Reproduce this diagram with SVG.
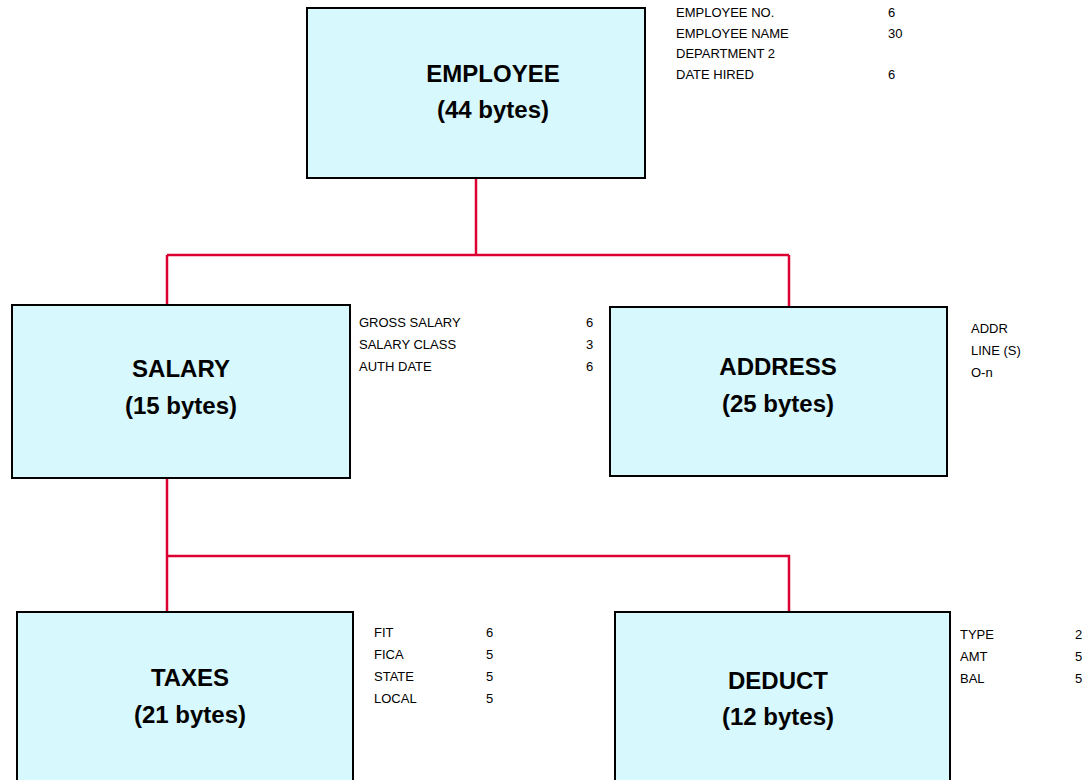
<svg xmlns="http://www.w3.org/2000/svg" width="1086" height="780" viewBox="0 0 1086 780">
  <style>
    .box { fill: #d7f8fc; stroke: #000; stroke-width: 2; }
    .title { font-family: "Liberation Sans", Arial, sans-serif; font-weight: bold; font-size: 24px; fill: #000; text-anchor: middle; }
    .field { font-family: "Liberation Sans", Arial, sans-serif; font-size: 13px; fill: #000; }
    .link { fill: none; stroke: #dc0032; stroke-width: 2.5; }
  </style>
  <rect width="1086" height="780" fill="#fff"/>

  <!-- connectors of the record hierarchy -->
  <g id="connectors">
    <path class="link" d="M476 178 V255 M167 255 H789 M167 255 V305 M789 255 V307"/>
    <path class="link" d="M167 478 V612 M167 556 H789 V612"/>
  </g>

  <g id="employee">
    <rect class="box" x="307" y="8" width="338" height="170"/>
    <text class="title" x="493" y="82">EMPLOYEE</text>
    <text class="title" x="493" y="118">(44 bytes)</text>
    <g class="field">
      <text x="676" y="17">EMPLOYEE NO.</text><text x="888" y="17">6</text>
      <text x="676" y="37.5">EMPLOYEE NAME</text><text x="888" y="37.5">30</text>
      <text x="676" y="58">DEPARTMENT 2</text>
      <text x="676" y="78.5">DATE HIRED</text><text x="888" y="78.5">6</text>
    </g>
  </g>

  <g id="salary">
    <rect class="box" x="12" y="305" width="338" height="173"/>
    <text class="title" x="181" y="377">SALARY</text>
    <text class="title" x="181" y="414">(15 bytes)</text>
    <g class="field">
      <text x="359" y="327">GROSS SALARY</text><text x="586" y="327">6</text>
      <text x="359" y="349">SALARY CLASS</text><text x="586" y="349">3</text>
      <text x="359" y="371">AUTH DATE</text><text x="586" y="371">6</text>
    </g>
  </g>

  <g id="address">
    <rect class="box" x="610" y="307" width="337" height="169"/>
    <text class="title" x="778" y="375">ADDRESS</text>
    <text class="title" x="778" y="412">(25 bytes)</text>
    <g class="field">
      <text x="971" y="333">ADDR</text>
      <text x="971" y="355">LINE (S)</text>
      <text x="971" y="377">O-n</text>
    </g>
  </g>

  <g id="taxes">
    <rect class="box" x="17" y="612" width="336" height="180"/>
    <text class="title" x="190" y="686">TAXES</text>
    <text class="title" x="190" y="723">(21 bytes)</text>
    <g class="field">
      <text x="374" y="637">FIT</text><text x="486" y="637">6</text>
      <text x="374" y="659">FICA</text><text x="486" y="659">5</text>
      <text x="374" y="681">STATE</text><text x="486" y="681">5</text>
      <text x="374" y="703">LOCAL</text><text x="486" y="703">5</text>
    </g>
  </g>

  <g id="deduct">
    <rect class="box" x="615" y="612" width="335" height="180"/>
    <text class="title" x="778" y="689">DEDUCT</text>
    <text class="title" x="778" y="725">(12 bytes)</text>
    <g class="field">
      <text x="960" y="639">TYPE</text><text x="1075" y="639">2</text>
      <text x="960" y="661">AMT</text><text x="1075" y="661">5</text>
      <text x="960" y="683">BAL</text><text x="1075" y="683">5</text>
    </g>
  </g>
</svg>
